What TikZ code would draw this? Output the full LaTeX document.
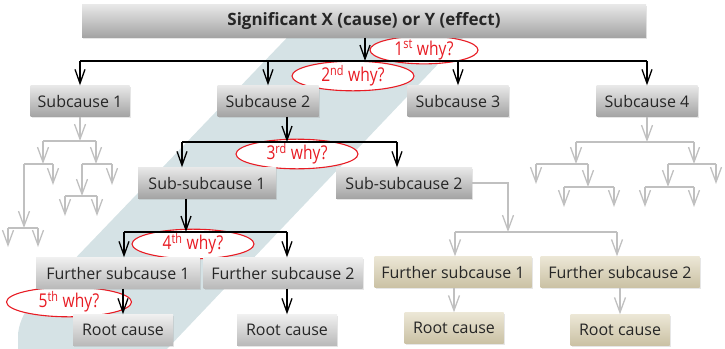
\documentclass[tikz,border=0pt]{standalone}
\usepackage{fontspec}
\setmainfont{Open Sans}
\newfontfamily\whyfont[FakeStretch=0.82]{Open Sans}
\usetikzlibrary{arrows.meta,shapes.geometric,shadows}

\definecolor{bandblue}{RGB}{213,226,229}
\definecolor{whyred}{RGB}{232,28,36}
\definecolor{lgrey}{RGB}{192,192,192}
\definecolor{txt}{RGB}{38,38,38}
\definecolor{tantop}{RGB}{236,231,214}
\definecolor{tanbot}{RGB}{202,193,164}

\begin{document}
\begin{tikzpicture}[x=1pt,y=-1pt
	,box/.style={
		rectangle
		,top color=gray!18
		,bottom color=gray!72
		,text=txt
		,font=\fontsize{16}{18}\selectfont
		,minimum height=31pt
		,inner sep=0
		,drop shadow={opacity=0.2,shadow xshift=1pt,shadow yshift=-1pt}
	}
	,tanbox/.style={box,top color=tantop,bottom color=tanbot}
	,why/.style={
		ellipse
		,draw=whyred
		,line width=1.1pt
		,fill=white
		,text=whyred
		,inner sep=0
		,minimum height=22pt
		,font=\whyfont\fontsize{19}{20}\selectfont
	}
	,blk/.style={black,line width=1.3pt}
	,blkarrow/.style={blk,-{Straight Barb[length=14pt,width=10pt]}}
	,gl/.style={lgrey,line width=1.3pt}
	,garrow/.style={gl,-{Straight Barb[length=15pt,width=11pt]}}
]
\useasboundingbox (0,0) rectangle (725,348);

% the path of the five whys
\fill[bandblue,rounded corners=18pt] (304,20) -- (480,20) -- (147,370) -- (18,370) -- (18,318) -- cycle;

\node[why,minimum width=108pt](w1) at(424,50) {1\textsuperscript{st} why?};
\node[why,minimum width=122pt](w2) at(353,76) {2\textsuperscript{nd} why?};
\node[why,minimum width=122pt](w3) at(297,154) {3\textsuperscript{rd} why?};
\node[why,minimum width=122pt](w4) at(193,244) {4\textsuperscript{th} why?};
\node[why,minimum width=125pt](w5) at(69,302) {5\textsuperscript{th} why?};

\node[box,minimum width=564pt,minimum height=33pt,font=\fontsize{17}{19}\selectfont\bfseries](top) at(364,21) {Significant X (cause) or Y (effect)};

\node[box,minimum width=99pt](sub1) at(80,101) {Subcause 1};
\node[box,minimum width=101pt](sub2) at(268,101) {Subcause 2};
\node[box,minimum width=101pt](sub3) at(458,101) {Subcause 3};
\node[box,minimum width=101pt](sub4) at(647,101) {Subcause 4};

\node[box,minimum width=138pt](ss1) at(207,183) {Sub-subcause 1};
\node[box,minimum width=136pt](ss2) at(404,183) {Sub-subcause 2};

\node[box,minimum width=164pt,top color=gray!12,bottom color=gray!55](fs1) at(118,273) {Further subcause 1};
\node[box,minimum width=159pt,top color=gray!12,bottom color=gray!55](fs2) at(283,273) {Further subcause 2};
\node[tanbox,minimum width=157pt](tfs1) at(453,272) {Further subcause 1};
\node[tanbox,minimum width=159pt](tfs2) at(620,272) {Further subcause 2};

\node[box,minimum width=100pt,top color=gray!12,bottom color=gray!55](rc1) at(123,330) {Root cause};
\node[box,minimum width=100pt,top color=gray!12,bottom color=gray!55](rc2) at(287,330) {Root cause};
\node[tanbox,minimum width=99pt](trc1) at(454,328) {Root cause};
\node[tanbox,minimum width=99pt](trc2) at(620,330) {Root cause};

% black: the chain of whys
\coordinate(j0) at(365,61);
\draw[blkarrow] (top.south -| j0) -- (j0);
\draw[blk] (sub1.north |- j0) -- (sub4.north |- j0);
\foreach \n in {sub1,sub2,sub3,sub4}{
	\draw[blkarrow] (\n.north |- j0) -- (\n.north);
}

\coordinate(j1) at(287,142);
\coordinate(j1l) at(182,142);
\coordinate(j1r) at(397,142);
\draw[blkarrow] (sub2.south -| j1) -- (j1);
\draw[blk] (j1l) -- (j1r);
\draw[blkarrow] (j1l) -- (j1l |- ss1.north);
\draw[blkarrow] (j1r) -- (j1r |- ss2.north);

\coordinate(j2) at(186,232);
\coordinate(j2l) at(124,232);
\coordinate(j2r) at(287,232);
\draw[blkarrow] (ss1.south -| j2) -- (j2);
\draw[blk] (j2l) -- (j2r);
\draw[blkarrow] (j2l) -- (j2l |- fs1.north);
\draw[blkarrow] (j2r) -- (j2r |- fs2.north);
\draw[blkarrow] (fs1.south -| rc1.north) -- (rc1.north);
\draw[blkarrow] (fs2.south -| rc2.north) -- (rc2.north);

% grey: the other branches
\coordinate(g0) at(508,232);
\coordinate(g0l) at(455,232);
\coordinate(g0r) at(617,232);
\draw[garrow] (ss2.east) -| (g0);
\draw[gl] (g0l) -- (g0r);
\draw[garrow] (g0l) -- (g0l |- tfs1.north);
\draw[garrow] (g0r) -- (g0r |- tfs2.north);
\draw[garrow] (tfs1.south -| trc1.north) -- (trc1.north);
\draw[garrow] (tfs2.south -| trc2.north) -- (trc2.north);

\foreach \n/\x/\y in {
	La/80/141,Lb/43/141,Lc/96/141%
	,Ld/43/164,Le/24/164,Lf/53/164,Lg/24/228,Lh/8/228,Li/38/228,Lj/8/247,Lk/38/247,Ll/53/185%
	,Lm/96/164,Ln/82/164,Lo/112/164,Lp/82/196,Lq/65/196,Lr/97/196,Ls/65/216,Lt/97/216,Lu/112/185%
	,Ra/647/142,Rb/576/142,Rc/694/142%
	,Rd/576/164,Re/536/164,Rf/588/164,Rg/536/184,Rh/588/187,Ri/564/187,Rj/614/187,Rk/564/207,Rl/614/207%
	,Rm/694/164,Rn/668/164,Ro/716/164,Rp/716/184,Rq/668/187,Rr/645/187,Rs/694/187,Rt/645/207,Ru/694/207%
}{
	\coordinate(\n) at(\x,\y);
}
\draw[garrow] (sub1.south) -- (La);
\draw[garrow] (sub4.south) -- (Ra);

\foreach \u/\v in {
	Lb/Lc,Le/Lf,Lh/Li,Ln/Lo,Lq/Lr%
	,Rb/Rc,Re/Rf,Ri/Rj,Rn/Ro,Rr/Rs%
}{
	\draw[gl] (\u) -- (\v);
}

\foreach \u/\v in {
	Lb/Ld,Le/Lg,Lh/Lj,Li/Lk,Lf/Ll,Lc/Lm,Ln/Lp,Lq/Ls,Lr/Lt,Lo/Lu%
	,Rb/Rd,Re/Rg,Rf/Rh,Ri/Rk,Rj/Rl,Rc/Rm,Ro/Rp,Rn/Rq,Rr/Rt,Rs/Ru%
}{
	\draw[garrow] (\u) -- (\v);
}

\end{tikzpicture}
\end{document}
